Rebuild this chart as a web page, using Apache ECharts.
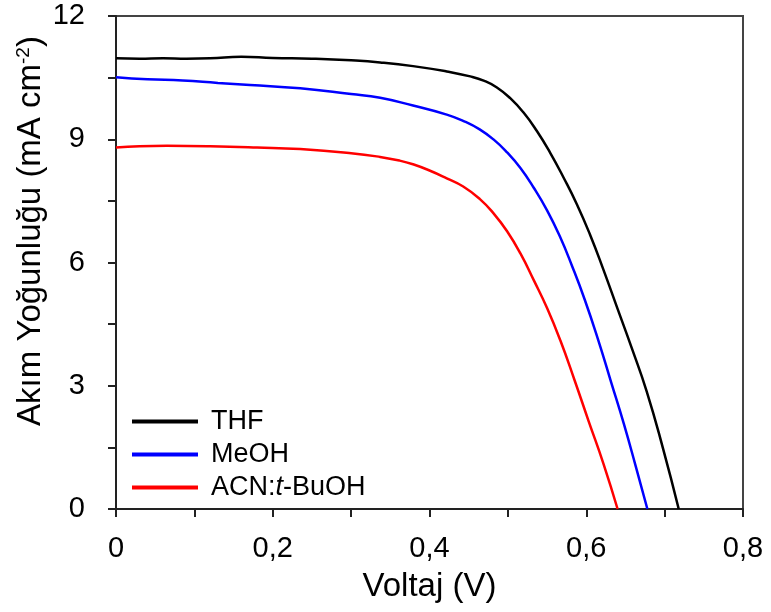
<!DOCTYPE html>
<html>
<head>
<meta charset="utf-8">
<script src="https://cdn.jsdelivr.net/npm/echarts@6/dist/echarts.min.js"></script>
<style>html,body{margin:0;padding:0;background:#fff;}#c{width:771px;height:612px;}</style>
</head>
<body>
<div id="c"></div>
<script>
var seriesNames = ['THF', 'MeOH', 'ACN:t-BuOH'];
var seriesColors = ['#000000', '#0000ff', '#ff0000'];

var thfV = [0, 0.03, 0.06, 0.09, 0.12, 0.16, 0.2, 0.25, 0.3, 0.337, 0.379, 0.422, 0.452, 0.47, 0.486, 0.503, 0.52, 0.537, 0.554, 0.571, 0.588, 0.605, 0.622, 0.64, 0.658, 0.677, 0.698, 0.718];
var thfJ = [10.97, 10.96, 10.97, 10.96, 10.97, 11.01, 10.98, 10.96, 10.92, 10.87, 10.78, 10.65, 10.53, 10.42, 10.26, 10.00, 9.65, 9.20, 8.67, 8.07, 7.42, 6.67, 5.82, 4.87, 3.92, 2.87, 1.47, 0];

var meohV = [0, 0.04, 0.085, 0.13, 0.171, 0.235, 0.3, 0.337, 0.379, 0.422, 0.445, 0.464, 0.482, 0.499, 0.516, 0.533, 0.55, 0.566, 0.582, 0.598, 0.615, 0.632, 0.648, 0.663, 0.678];
var meohJ = [10.51, 10.46, 10.43, 10.37, 10.32, 10.24, 10.10, 10.01, 9.82, 9.60, 9.43, 9.24, 8.99, 8.68, 8.30, 7.82, 7.27, 6.65, 5.91, 5.10, 4.13, 3.07, 2.07, 1.05, 0];

var acnV = [0, 0.03, 0.065, 0.12, 0.18, 0.235, 0.3, 0.337, 0.362, 0.379, 0.4, 0.422, 0.443, 0.464, 0.482, 0.499, 0.516, 0.533, 0.55, 0.567, 0.585, 0.603, 0.622, 0.64];
var acnJ = [8.80, 8.83, 8.84, 8.83, 8.80, 8.76, 8.66, 8.57, 8.48, 8.39, 8.24, 8.05, 7.85, 7.55, 7.19, 6.76, 6.22, 5.57, 4.89, 4.10, 3.14, 2.14, 1.10, 0];

var xMin = 0, xMax = 0.8, xStep = 0.1;
var yMin = 0, yMax = 12, yStep = 1.5;

function zip(a, b) { return a.map(function (v, i) { return [v, b[i]]; }); }
var allData = [zip(thfV, thfJ), zip(meohV, meohJ), zip(acnV, acnJ)];

var FONT = 'Liberation Sans, Arial, sans-serif';
var chart = echarts.init(document.getElementById('c'), null, {renderer: 'canvas'});
chart.setOption({
  backgroundColor: '#ffffff',
  animation: false,
  grid: {left: 116, right: 28, top: 16, bottom: 103, show: true, borderColor: '#444', borderWidth: 2, backgroundColor: 'transparent'},
  legend: {
    orient: 'vertical', left: 127, top: 403, itemGap: 6, itemWidth: 66, itemHeight: 4, icon: 'rect',
    data: seriesNames,
    formatter: function (n) {
      if (n === 'ACN:t-BuOH') return '{n|ACN:}{i|t}{n|-BuOH}';
      return '{n|' + n + '}';
    },
    textStyle: {
      padding: [0, 0, 0, 8],
      rich: {
        n: {fontFamily: FONT, fontSize: 27, color: '#000', lineHeight: 28},
        i: {fontFamily: FONT, fontSize: 27, color: '#000', fontStyle: 'italic', lineHeight: 28}
      }
    }
  },
  xAxis: {
    type: 'value', min: xMin, max: xMax, interval: xStep,
    name: 'Voltaj (V)', nameLocation: 'middle', nameGap: 61,
    nameTextStyle: {fontFamily: FONT, fontSize: 33, color: '#000'},
    axisLine: {show: true, onZero: false, lineStyle: {color: '#222', width: 2}},
    axisTick: {show: true, inside: false, length: 8, lineStyle: {color: '#222', width: 2}},
    axisLabel: {
      margin: 25, fontFamily: FONT, fontSize: 29, color: '#000',
      formatter: function (v) {
        var k = Math.round(v * 10);
        if (k % 2 !== 0) return '';
        return k === 0 ? '0' : (k / 10).toFixed(1).replace('.', ',');
      }
    },
    splitLine: {show: false}
  },
  yAxis: {
    type: 'value', min: yMin, max: yMax, interval: yStep,
    axisLine: {show: true, onZero: false, lineStyle: {color: '#222', width: 2}},
    axisTick: {show: true, inside: false, length: 8, lineStyle: {color: '#222', width: 2}},
    axisLabel: {
      margin: 31, fontFamily: FONT, fontSize: 29, color: '#000',
      formatter: function (v) {
        var k = Math.round(v * 10);
        return (k % 30 === 0) ? String(k / 10) : '';
      }
    },
    splitLine: {show: false}
  },
  graphic: [{
    type: 'text', x: 31, y: 231, rotation: Math.PI / 2,
    style: {
      text: '{a|Akım Yoğunluğu (mA cm}{s|-2}{a|)}',
      align: 'center', verticalAlign: 'middle',
      rich: {
        a: {fontFamily: FONT, fontSize: 33, fill: '#000', color: '#000'},
        s: {fontFamily: FONT, fontSize: 19, fill: '#000', color: '#000', verticalAlign: 'top'}
      }
    }
  }],
  series: allData.map(function (d, i) {
    return {
      name: seriesNames[i], type: 'line', data: d, showSymbol: false, symbol: 'none',
      smooth: 0.5, lineStyle: {color: seriesColors[i], width: 2.5}, itemStyle: {color: seriesColors[i]}, z: 3 - i
    };
  })
});
</script>
</body>
</html>
